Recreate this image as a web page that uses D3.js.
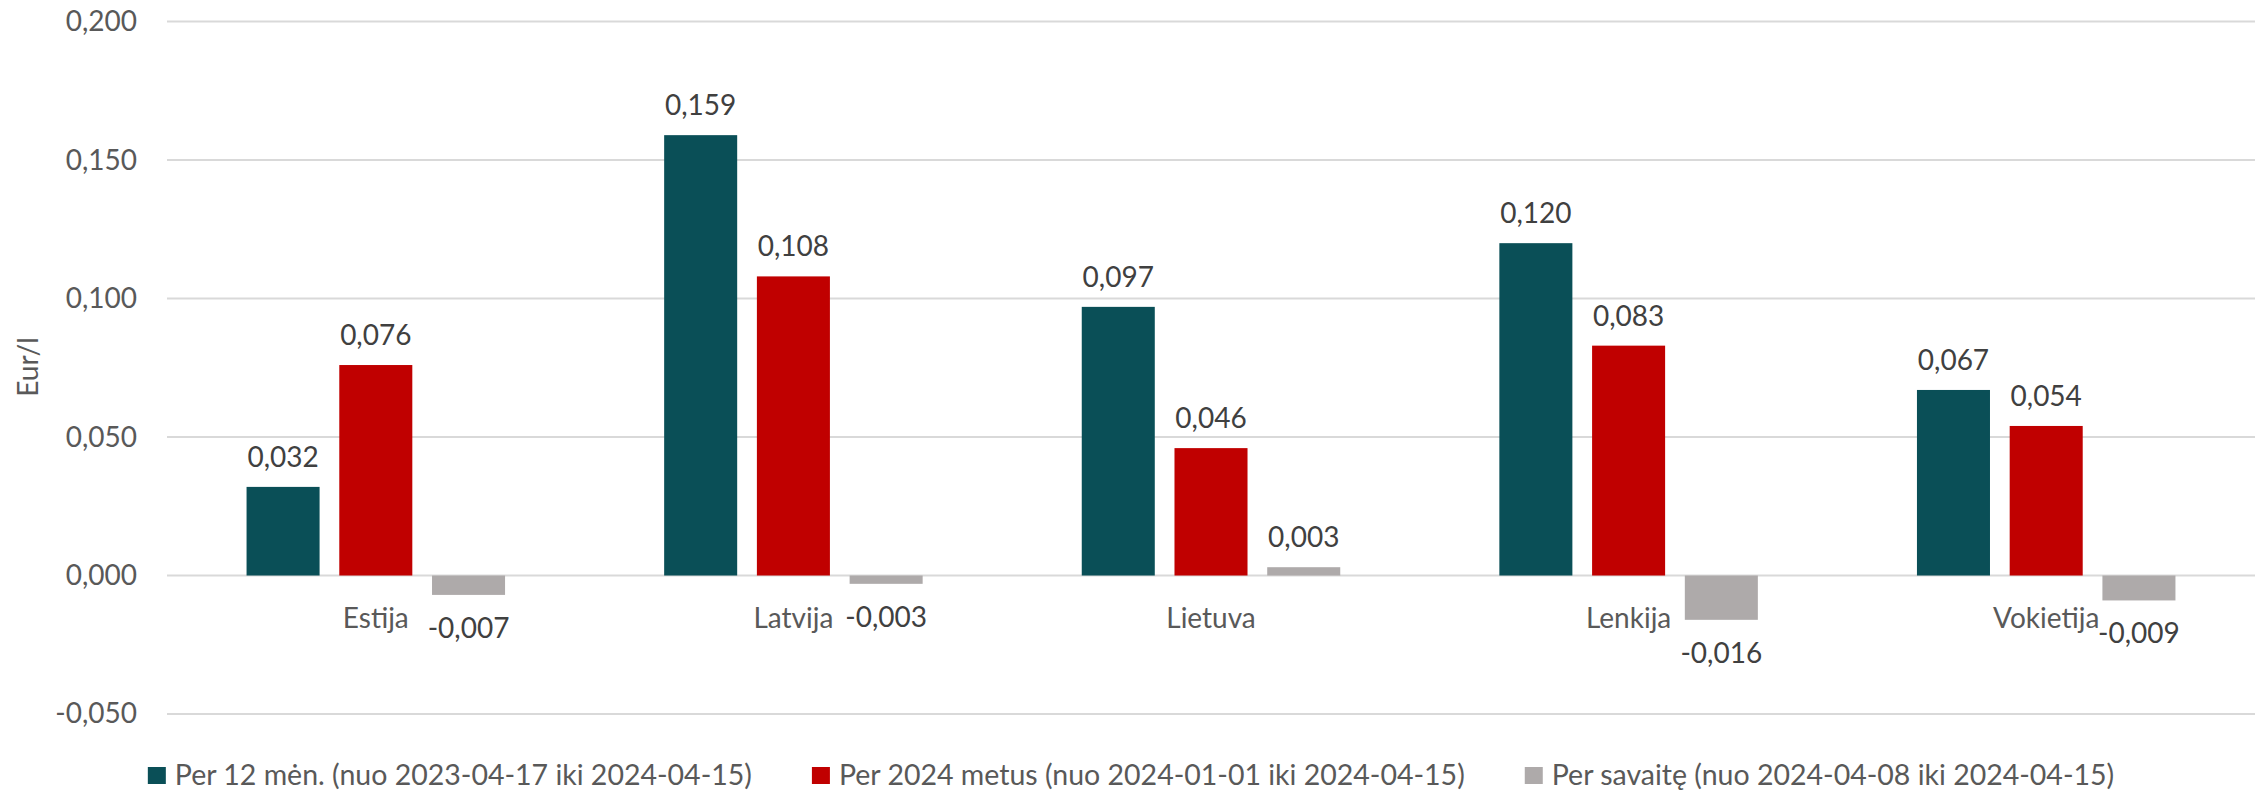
<!DOCTYPE html>
<html>
<head>
<meta charset="utf-8">
<script src="https://cdn.jsdelivr.net/npm/d3@7"></script>
<style>
  body { margin: 0; background: #fff; }
  text { font-family: Lato, "Open Sans", sans-serif; }
</style>
</head>
<body>
<div id="chart"></div>
<script>
// data
const countries = ["Estija", "Latvija", "Lietuva", "Lenkija", "Vokietija"]
const seriesNames = [
    "Per 12 mėn. (nuo 2023-04-17 iki 2024-04-15)",
    "Per 2024 metus (nuo 2024-01-01 iki 2024-04-15)",
    "Per savaitę (nuo 2024-04-08 iki 2024-04-15)"
]
const per12men = [0.032, 0.159, 0.097, 0.120, 0.067]
const per2024 = [0.076, 0.108, 0.046, 0.083, 0.054]
const perSavaite = [-0.007, -0.003, 0.003, -0.016, -0.009]
const yTicks = [-0.05, 0, 0.05, 0.1, 0.15, 0.2]
const colors = ["#0a4f57", "#c00000", "#aeaaaa"]

const W = 2262, H = 791
const margin = ({ top: 21.6, right: 7, bottom: 77, left: 167 })

const allSeries = [per12men, per2024, perSavaite]
const rows = []
countries.forEach(function (c, i) {
    allSeries.forEach(function (s, j) {
        rows.push({ country: c, series: j, value: s[i] })
    })
})

const fmt = function (v) {
    return d3.format(".3f")(v).replace(".", ",").replace("−", "-")
}

const svg = d3.select("#chart").append("svg")
    .attr("width", W)
    .attr("height", H)

const x0 = d3.scaleBand()
    .domain(countries)
    .range([margin.left, W - margin.right])
    .padding(0)

const y = d3.scaleLinear()
    .domain([-0.05, 0.2])
    .range([714, margin.top])

// bars fill about 62% of each category band
const groupW = x0.bandwidth() * 0.619
const x1 = d3.scaleBand()
    .domain([0, 1, 2])
    .range([(x0.bandwidth() - groupW) / 2, (x0.bandwidth() + groupW) / 2])
    .paddingInner(0.2125)

// gridlines
svg.append("g")
    .selectAll("line")
    .data(yTicks)
    .join("line")
    .attr("x1", margin.left)
    .attr("x2", W - margin.right)
    .attr("y1", d => y(d))
    .attr("y2", d => y(d))
    .attr("stroke", "#d9d9d9")
    .attr("stroke-width", 2)

// y axis labels
const yAxis = d3.axisLeft(y).tickValues(yTicks).tickFormat(fmt).tickSize(0).tickPadding(30)
svg.append("g")
    .attr("transform", "translate(" + margin.left + ",0)")
    .call(yAxis)
    .call(g => g.select(".domain").remove())
    .selectAll("text")
    .attr("font-family", "Lato")
    .attr("font-size", 28)
    .attr("fill", "#595959")

svg.append("text")
    .attr("transform", "translate(38," + 367 + ") rotate(-90)")
    .attr("text-anchor", "middle")
    .attr("font-size", 28)
    .attr("fill", "#595959")
    .text("Eur/l")

// bars
svg.append("g")
    .selectAll("rect")
    .data(rows)
    .join("rect")
    .attr("x", d => x0(d.country) + x1(d.series))
    .attr("width", x1.bandwidth())
    .attr("y", d => y(Math.max(0, d.value)))
    .attr("height", d => Math.abs(y(d.value) - y(0)))
    .attr("fill", d => colors[d.series])

// data labels
svg.append("g")
    .selectAll("text")
    .data(rows)
    .join("text")
    .attr("x", d => x0(d.country) + x1(d.series) + x1.bandwidth() / 2)
    .attr("y", d => d.value >= 0 ? y(d.value) - 20 : y(d.value) + 43)
    .attr("text-anchor", "middle")
    .attr("font-size", 28)
    .attr("fill", "#404040")
    .text(d => fmt(d.value))

// category labels along the zero line
svg.append("g")
    .selectAll("text")
    .data(countries)
    .join("text")
    .attr("x", d => x0(d) + x0.bandwidth() / 2)
    .attr("y", 628)
    .attr("text-anchor", "middle")
    .attr("font-size", 28)
    .attr("fill", "#595959")
    .text(d => d)

// legend, centred on the chart
const legend = svg.append("g")
const items = legend.selectAll("g")
    .data(seriesNames)
    .join("g")
items.append("rect")
    .attr("width", 18)
    .attr("height", 17)
    .attr("y", 767)
    .attr("fill", (d, i) => colors[i])
items.append("text")
    .attr("x", 27)
    .attr("y", 785)
    .attr("font-size", 28.5)
    .attr("fill", "#595959")
    .text(d => d)

const widths = []
items.each(function () { widths.push(27 + d3.select(this).select("text").node().getComputedTextLength()) })
const gap = 60
const total = d3.sum(widths) + gap * (widths.length - 1)
let pos = W / 2 - total / 2
items.attr("transform", function (d, i) {
    const t = "translate(" + pos + ",0)"
    pos += widths[i] + gap
    return t
})
</script>
</body>
</html>
